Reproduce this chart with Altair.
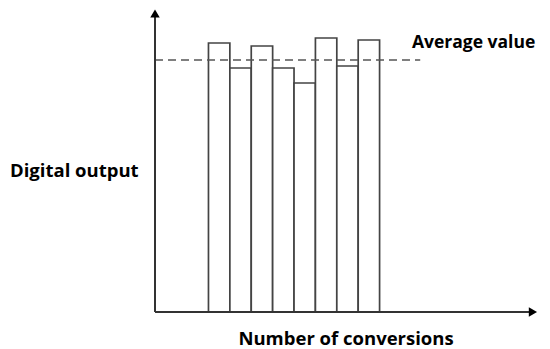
import altair as alt
import pandas as pd

conversions = [1, 2, 3, 4, 5, 6, 7, 8]
outputs = [269, 244, 266, 244, 229, 274, 246, 272]
average_value = 252
avg_label = "Average value"
y_title = "Digital output"
x_title = "Number of conversions"

df = pd.DataFrame({"k": conversions, "v": outputs})

X_DOM = [-2, 16]
Y_DOM = [0, 300]
xs = alt.Scale(domain=X_DOM, nice=False, zero=False)
ys = alt.Scale(domain=Y_DOM, nice=False)

FONT = "Open Sans"
FS = 18.5
INK = "#333333"

bars = alt.Chart(df).transform_calculate(
    x0="datum.k - 0.5", x1="datum.k + 0.5"
).mark_bar(fill="white", stroke="#444444", strokeWidth=1.7, clip=False).encode(
    x=alt.X("x0:Q", scale=xs, axis=None),
    x2="x1:Q",
    y=alt.Y("v:Q", scale=ys, axis=None),
    y2=alt.datum(0),
)

avg = alt.Chart(pd.DataFrame({"a": [average_value]})).mark_rule(
    stroke="#555555", strokeWidth=1.5, strokeDash=[8, 5]
).encode(
    x=alt.datum(-2, scale=xs, axis=None),
    x2=alt.datum(10.4),
    y=alt.Y("a:Q", scale=ys, axis=None),
)

one = pd.DataFrame({"z": [0]})
yaxis = alt.Chart(one).mark_rule(stroke=INK, strokeWidth=2).encode(
    x=alt.datum(-2, scale=xs, axis=None), y=alt.datum(0, scale=ys, axis=None), y2=alt.datum(296)
)
xaxis = alt.Chart(one).mark_rule(stroke=INK, strokeWidth=2).encode(
    x=alt.datum(-2, scale=xs, axis=None), x2=alt.datum(15.5), y=alt.datum(0, scale=ys, axis=None)
)
yarrow = alt.Chart(one).mark_point(
    shape="triangle-up", filled=True, color="black", size=90, opacity=1
).encode(x=alt.datum(-2, scale=xs, axis=None), y=alt.datum(298.5, scale=ys, axis=None))
xarrow = alt.Chart(one).mark_point(
    shape="triangle-right", filled=True, color="black", size=90, opacity=1
).encode(x=alt.datum(15.67, scale=xs, axis=None), y=alt.datum(0, scale=ys, axis=None))

avg_text = alt.Chart(pd.DataFrame({"t": [avg_label]})).mark_text(
    align="left", baseline="middle", font=FONT, fontSize=17.5, fontWeight="bold", color="black"
).encode(x=alt.datum(10.01, scale=xs, axis=None), y=alt.datum(269, scale=ys, axis=None), text="t:N")

ytitle = alt.Chart(pd.DataFrame({"t": [y_title]})).mark_text(
    align="left", baseline="middle", font=FONT, fontSize=FS, fontWeight="bold", color="black"
).encode(x=alt.datum(-8.78, scale=xs, axis=None), y=alt.datum(141, scale=ys, axis=None), text="t:N")

xtitle = alt.Chart(pd.DataFrame({"t": [x_title]})).mark_text(
    align="center", baseline="middle", font=FONT, fontSize=FS, fontWeight="bold", color="black"
).encode(x=alt.datum(6.93, scale=xs, axis=None), y=alt.datum(-27, scale=ys, axis=None), text="t:N")

chart = alt.layer(bars, avg, yaxis, xaxis, yarrow, xarrow, avg_text, ytitle, xtitle).properties(
    width=385, height=300,
    autosize=alt.AutoSizeParams(type="none"),
    padding={"left": 147, "top": 4, "right": 0, "bottom": 37},
    view=alt.ViewBackground(strokeWidth=0, stroke="transparent"),
).configure_view(stroke="transparent", strokeWidth=0).configure_axis(
    disable=True, grid=False, domain=False
).configure(background="white")

chart.save("out.html", embed_options={"renderer": "svg", "actions": False})
